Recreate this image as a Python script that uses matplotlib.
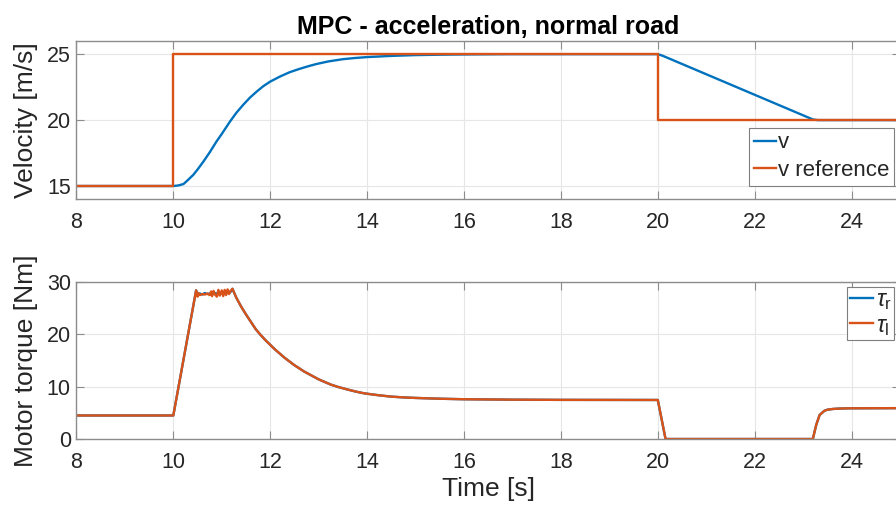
import matplotlib
matplotlib.use("Agg")
import matplotlib.pyplot as plt

# velocity response
t_v = [8.0, 10.0, 10.1, 10.21, 10.3, 10.41, 10.5, 10.62, 10.75, 10.89, 11.0,
       11.17, 11.3, 11.44, 11.58, 11.72, 11.86, 12.0, 12.2, 12.4, 12.6, 12.8,
       12.95, 13.2, 13.5, 13.75, 14.0, 14.5, 15.0, 15.5, 16.0, 17.0, 20.0,
       20.1, 23.2, 23.3, 25.0]
v = [15.0, 15.0, 15.04, 15.15, 15.45, 15.84, 16.25, 16.85, 17.55, 18.37, 18.95,
     19.89, 20.55, 21.15, 21.7, 22.16, 22.58, 22.92, 23.3, 23.63, 23.88, 24.1,
     24.25, 24.45, 24.62, 24.71, 24.78, 24.87, 24.93, 24.96, 24.98, 25.0, 25.0,
     24.88, 20.05, 20.0, 20.0]

t_ref = [8.0, 10.0, 10.0, 20.0, 20.0, 25.0]
v_ref = [15.0, 15.0, 25.0, 25.0, 20.0, 20.0]

# motor torque
t_tq = [8.0, 10.0, 10.47, 10.50, 10.52, 10.55, 10.60, 10.65, 10.70, 10.75,
        10.78, 10.80, 10.83, 10.86, 10.90, 10.93, 10.96, 11.00, 11.03, 11.06,
        11.09, 11.12, 11.15, 11.18, 11.22, 11.3, 11.4, 11.5, 11.6, 11.7, 11.8,
        11.9, 12.0, 12.1, 12.2, 12.3, 12.4, 12.5, 12.6, 12.7, 12.8, 12.9,
        13.0, 13.1, 13.25, 13.4, 13.5, 13.6, 13.75, 13.9, 14.0, 14.25, 14.5,
        14.75, 15.0, 15.5, 16.0, 17.0, 18.0, 20.0, 20.16, 23.2, 23.27, 23.34,
        23.44, 23.5, 23.61, 23.75, 23.95, 25.0]
tau_l = [4.5, 4.5, 28.4, 27.2, 27.9, 27.5, 27.7, 27.6, 27.8, 27.5,
         28.2, 27.3, 28.3, 27.6, 27.2, 28.5, 27.4, 28.4, 27.3, 28.5,
         27.5, 28.6, 27.7, 28.3, 28.7, 27.0, 25.3, 23.8, 22.4, 21.0, 19.9,
         18.9, 18.0, 17.1, 16.3, 15.5, 14.8, 14.1, 13.5, 12.9, 12.4, 11.9,
         11.4, 11.0, 10.4, 9.95, 9.7, 9.45, 9.1, 8.8, 8.65, 8.35, 8.1,
         7.95, 7.85, 7.7, 7.6, 7.52, 7.48, 7.46, 0.0, 0.0, 2.7, 4.6,
         5.4, 5.6, 5.74, 5.82, 5.87, 5.9]
# right wheel: same trajectory, slightly different chatter on the plateau
tau_r = [4.5, 4.5, 28.4, 27.5, 27.6, 27.8, 27.6, 27.9, 27.7, 27.8,
         27.9, 27.6, 28.0, 27.9, 27.6, 28.2, 27.7, 28.1, 27.6, 28.2,
         27.8, 28.3, 27.9, 28.1, 28.7, 27.0, 25.3, 23.8, 22.4, 21.0, 19.9,
         18.9, 18.0, 17.1, 16.3, 15.5, 14.8, 14.1, 13.5, 12.9, 12.4, 11.9,
         11.4, 11.0, 10.4, 9.95, 9.7, 9.45, 9.1, 8.8, 8.65, 8.35, 8.1,
         7.95, 7.85, 7.7, 7.6, 7.52, 7.48, 7.46, 0.0, 0.0, 2.7, 4.6,
         5.4, 5.6, 5.74, 5.82, 5.87, 5.9]

BLUE = "#0072BD"
ORANGE = "#D95319"
AXC = "#8c8c8c"
TXT = "#262626"

plt.rcParams["font.family"] = ["Liberation Sans", "DejaVu Sans"]
plt.rcParams["mathtext.fontset"] = "custom"
plt.rcParams["mathtext.rm"] = "Liberation Sans"
plt.rcParams["mathtext.it"] = "Liberation Sans:italic"

fig = plt.figure(figsize=(8.96, 5.13), dpi=100)
ax1 = fig.add_axes([0.0853, 0.6117, 0.9192, 0.3084])
ax2 = fig.add_axes([0.0853, 0.1442, 0.9192, 0.3061])


def style(ax):
    ax.set_xlim(8, 25)
    ax.set_xticks(range(8, 25, 2))
    ax.grid(True, color="#e6e6e6", linewidth=0.8)
    ax.set_axisbelow(True)
    for s in ax.spines.values():
        s.set_color(AXC)
        s.set_linewidth(1.0)
    ax.tick_params(direction="in", top=True, right=True, length=5.5,
                   width=0.8, color=AXC, labelcolor=TXT, labelsize=15.5)
    ax.tick_params(axis="x", pad=9.5)
    ax.tick_params(axis="y", pad=4)


ax1.plot(t_v, v, color=BLUE, lw=1.7, label="v")
ax1.plot(t_ref, v_ref, color=ORANGE, lw=1.7, label="v reference")
style(ax1)
ax1.set_ylim(14, 26)
ax1.set_yticks([15, 20, 25])
ax1.set_ylabel("Velocity [m/s]", fontsize=19, color=TXT, labelpad=6)
ax1.set_title("MPC - acceleration, normal road", fontsize=18,
              fontweight="bold", color="black", pad=5)
leg1 = ax1.legend(loc="upper right", bbox_to_anchor=(894 / 896, 1 - 128 / 513),
                  bbox_transform=fig.transFigure, fontsize=16, frameon=True,
                  fancybox=False, framealpha=1, edgecolor="#7f7f7f",
                  handlelength=1.0, handletextpad=0.1, borderpad=0.2,
                  labelspacing=0.3, borderaxespad=0)
leg1.get_frame().set_linewidth(0.8)
for txt in leg1.get_texts():
    txt.set_color(TXT)

ax2.plot(t_tq, tau_r, color=BLUE, lw=1.7, label=r"$\tau_{\rm r}$")
ax2.plot(t_tq, tau_l, color=ORANGE, lw=1.7, label=r"$\tau_{\rm l}$")
style(ax2)
ax2.set_ylim(0, 30)
ax2.set_yticks([0, 10, 20, 30])
ax2.set_ylabel("Motor torque [Nm]", fontsize=19, color=TXT, labelpad=6)
ax2.set_xlabel("Time [s]", fontsize=19, color=TXT, labelpad=3)
leg2 = ax2.legend(loc="upper right", bbox_to_anchor=(894 / 896, 1 - 287 / 513),
                  bbox_transform=fig.transFigure, fontsize=17, frameon=True,
                  fancybox=False, framealpha=1, edgecolor="#7f7f7f",
                  handlelength=1.0, handletextpad=0.1, borderpad=0.1,
                  labelspacing=0.1, borderaxespad=0)
leg2.get_frame().set_linewidth(0.8)
for txt in leg2.get_texts():
    txt.set_color(TXT)

fig.savefig("out.png", dpi=100)
